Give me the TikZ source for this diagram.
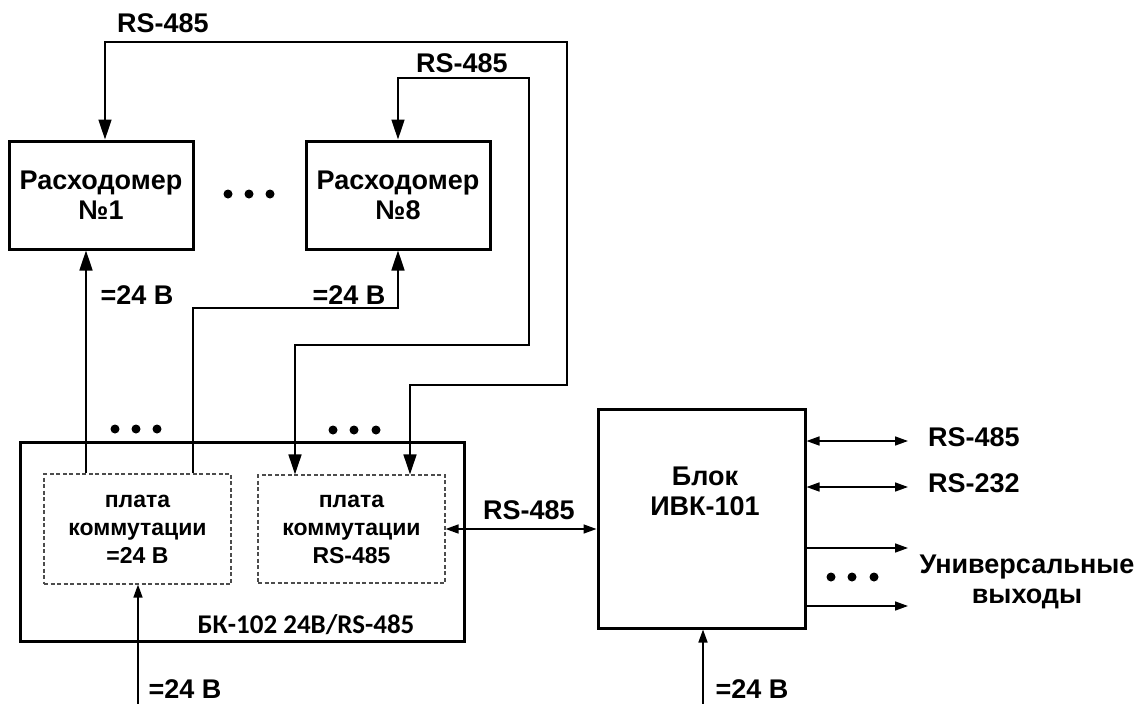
\documentclass[tikz,border=0pt]{standalone}
\usepackage{fontspec}
\setmainfont{Liberation Sans}
\newfontfamily\calibfont{Carlito}
\usetikzlibrary{arrows.meta,positioning,calc}
\tikzset{
  unit/.style={draw, line width=3pt, align=center, inner sep=0pt,
    font=\bfseries\fontsize{27}{30}\selectfont},
  board/.style={draw=black!70, dash pattern=on 4pt off 2.5pt, line width=1.2pt,
    align=center, inner sep=0pt, font=\bfseries\fontsize{23}{28}\selectfont},
  lbl/.style={font=\bfseries\fontsize{27}{30}\selectfont, inner sep=0pt, align=center},
  bkname/.style={font=\calibfont\bfseries\fontsize{27}{30}\selectfont, inner sep=0pt},
  wire/.style={line width=1.6pt},
  bigtip/.tip={Triangle[length=20pt,width=13pt]},
  smalltip/.tip={Triangle[length=13pt,width=9pt]},
}
\begin{document}
\begin{tikzpicture}[x=1pt,y=-1pt]
  \useasboundingbox (0,0) rectangle (1141,704);
  % flow meters
  \node[unit, minimum width=184pt, minimum height=108pt] (r1) at (101,195) {Расходомер\\№1};
  \node[unit, minimum width=184pt, minimum height=108pt] (r8) at (398,195) {Расходомер\\№8};
  % BK-102 and its boards
  \node[unit, minimum width=444pt, minimum height=199pt] (bk) at (242,541.5) {};
  \node[board, minimum width=187pt, minimum height=110pt] (p24) at (137.5,529) {плата\\коммутации\\=24 В};
  \node[board, minimum width=187pt, minimum height=108pt] (p485) at (351.5,529) {плата\\коммутации\\RS-485};
  \node[bkname] (bklbl) at (306,625) {БК-102 24В/RS-485};
  % IVK-101
  \node[unit, minimum width=207pt, minimum height=219pt] (ivk) at (701.5,518.5) {};
  \node[lbl] (ivklbl) at (705,491) {Блок\\ИВК-101};
  % bend points and free ends
  \coordinate (bus1top) at (567,42);
  \coordinate (bus1low) at (410,385);
  \coordinate (bus8top) at (529,78);
  \coordinate (bus8low) at (295,345);
  \coordinate (pw1) at (86,300);
  \coordinate (pw8) at (193,308);
  \coordinate (in24) at (138,704);
  \coordinate (inivk) at (703,704);
  \coordinate (out1) at (908,441);
  \coordinate (out2) at (908,487);
  \coordinate (out3) at (908,548);
  \coordinate (out4) at (908,606);
  % RS-485 lines
  \draw[wire, bigtip-bigtip] ([xshift=4pt]r1.north) |- (bus1top) |- (bus1low) -- (bus1low |- p485.north);
  \draw[wire, bigtip-bigtip] (r8.north) |- (bus8top) |- (bus8low) -- (bus8low |- p485.north);
  \draw[wire, smalltip-smalltip] (p485.east) -- (p485.east -| ivk.west);
  % =24 V feeds
  \draw[wire, -bigtip] (pw1 |- p24.north) -- (pw1 |- r1.south);
  \draw[wire, -bigtip] (pw8 |- p24.north) -- (pw8) -| (r8.south);
  \draw[wire, -smalltip] (in24) -- (in24 |- p24.south);
  \draw[wire, -smalltip] (inivk) -- (inivk |- ivk.south);
  % outputs
  \draw[wire, smalltip-smalltip] (out1 -| ivk.east) -- (out1);
  \draw[wire, smalltip-smalltip] (out2 -| ivk.east) -- (out2);
  \draw[wire, -smalltip] (out3 -| ivk.east) -- (out3);
  \draw[wire, -smalltip] (out4 -| ivk.east) -- (out4);
  % labels
  \node[lbl] (l485a) at (163,23) {RS-485};
  \node[lbl] (l485b) at (462,63) {RS-485};
  \node[lbl] (l24a) at (137,295) {=24 В};
  \node[lbl] (l24b) at (349,295) {=24 В};
  \node[lbl] (l24c) at (185,689) {=24 В};
  \node[lbl] (l24d) at (752,689) {=24 В};
  \node[lbl] (l485c) at (529,510) {RS-485};
  \node[lbl, anchor=west] (l485d) at (928,437) {RS-485};
  \node[lbl, anchor=west] (l232) at (928,483) {RS-232};
  \node[lbl] (louts) at (1027,582) {Универсальные\\выходы};
  % dots
  \foreach \x/\y in {228/194,249/194,270/194,115/429,136/429,157/429,
                     333/430,354/430,376/430,831/577,852/577,874/577}
    \fill (\x,\y) circle[radius=4.5pt];
\end{tikzpicture}
\end{document}
